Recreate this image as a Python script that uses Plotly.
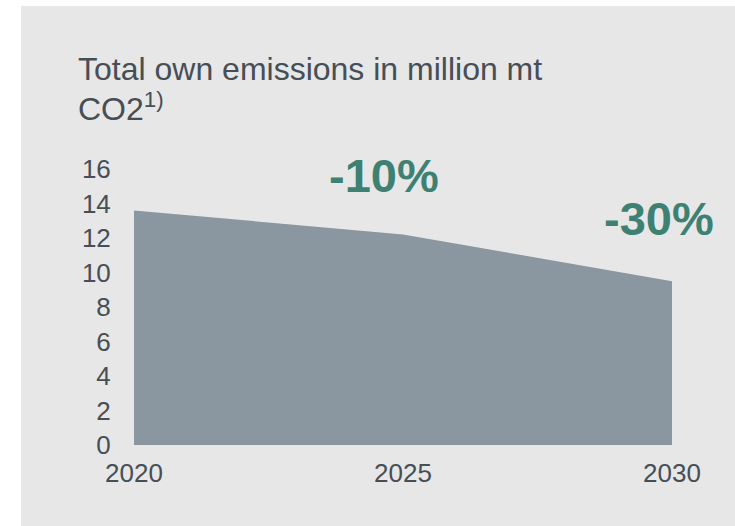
import plotly.graph_objects as go

years = [2020, 2025, 2030]
emissions = [13.6, 12.2, 9.5]
y_ticks = [0, 2, 4, 6, 8, 10, 12, 14, 16]
x_ticks = [2020, 2025, 2030]
title_lines = ["Total own emissions in million mt", "CO2<sup>1)</sup>"]
labels = ["-10%", "-30%"]

W, H = 735, 526
L, R, T, B = 134, 672, 169, 445  # plot area in pixels

def px(x):
    return (x - L) / (R - L)

def py(y):
    return (B - y) / (B - T)

FONT = "Liberation Sans, Arial, Helvetica, sans-serif"
TXT = "#464e56"
GREEN = "#3e8173"
PANEL = "#e7e7e7"

fig = go.Figure()
fig.add_trace(go.Scatter(
    x=years, y=emissions, mode="lines", fill="tozeroy",
    fillcolor="#8a97a0", line=dict(width=0, color="#8a97a0"),
    hoverinfo="skip", showlegend=False,
))

fig.update_layout(
    width=W, height=H,
    margin=dict(l=L, r=W - R, t=T, b=H - B, pad=0),
    paper_bgcolor=PANEL,
    plot_bgcolor="rgba(0,0,0,0)",
    font=dict(family=FONT, color=TXT),
    xaxis=dict(range=[2020, 2030], tickvals=x_ticks, ticktext=[str(v) for v in x_ticks],
               showgrid=False, zeroline=False, showline=False, fixedrange=True,
               ticks="outside", ticklen=5, tickcolor="rgba(0,0,0,0)",
               tickfont=dict(size=26, color=TXT, family=FONT)),
    yaxis=dict(range=[0, 16], tickvals=y_ticks, showgrid=False, zeroline=False,
               showline=False, fixedrange=True, ticks="outside", ticklen=17,
               tickcolor="rgba(0,0,0,0)",
               tickfont=dict(size=26, color=TXT, family=FONT)),
    shapes=[
        dict(type="rect", xref="paper", yref="paper", layer="below",
             x0=px(-5), x1=px(740), y0=py(6), y1=py(-5),
             fillcolor="white", line=dict(width=0)),
        dict(type="rect", xref="paper", yref="paper", layer="below",
             x0=px(-5), x1=px(21), y0=py(530), y1=py(-5),
             fillcolor="white", line=dict(width=0)),
    ],
)

fig.add_annotation(text=title_lines[0], xref="paper", yref="paper",
                   x=px(76), y=py(69), xanchor="left", yanchor="middle",
                   showarrow=False, font=dict(size=32, color=TXT, family=FONT))
fig.add_annotation(text=title_lines[1], xref="paper", yref="paper",
                   x=px(76), y=py(107), xanchor="left", yanchor="middle",
                   showarrow=False, font=dict(size=32, color=TXT, family=FONT))
fig.add_annotation(text="<b>%s</b>" % labels[0], xref="paper", yref="paper",
                   x=px(384), y=py(175), xanchor="center", yanchor="middle",
                   showarrow=False, font=dict(size=47, color=GREEN, family=FONT))
fig.add_annotation(text="<b>%s</b>" % labels[1], xref="paper", yref="paper",
                   x=px(659), y=py(218), xanchor="center", yanchor="middle",
                   showarrow=False, font=dict(size=47, color=GREEN, family=FONT))

fig.write_html(
    "out.html", config={"displayModeBar": False},
    post_script=(
        "document.body.style.margin='0';"
        "document.body.style.overflow='hidden';"
        "document.documentElement.style.overflow='hidden';"
        "document.body.style.background='" + PANEL + "';"
        "document.documentElement.style.background='" + PANEL + "';"
    ),
)
